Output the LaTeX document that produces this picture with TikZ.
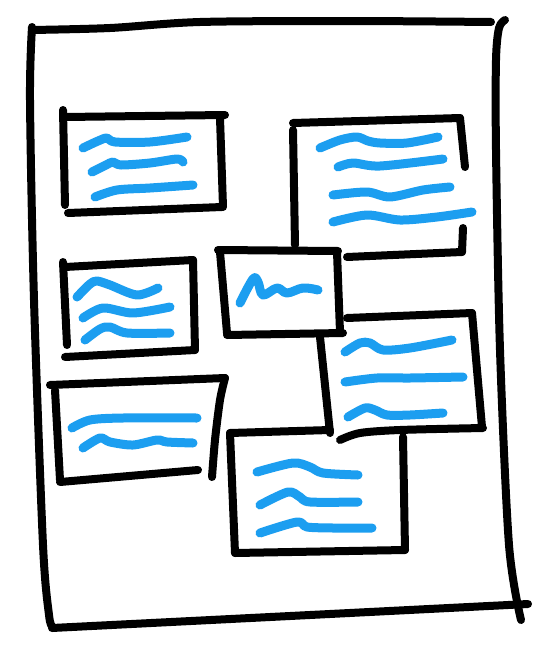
\documentclass[tikz,border=0pt]{standalone}
\definecolor{pen}{RGB}{28,158,240}
\begin{document}
\begin{tikzpicture}[x=1pt,y=-1pt,
  ink/.style={line width=8pt,line cap=round,line join=round,draw=black},
  scrib/.style={line width=9pt,line cap=round,line join=round,draw=pen}]
\useasboundingbox (0,0) rectangle (546,645);
% page
\draw[ink] plot[smooth] coordinates {(32,30) (110,28) (200,22) (350,21) (491,22)};
\draw[ink] plot[smooth] coordinates {(32,27) (30,100) (34,300) (43,545) (49,615) (52,626)};
\draw[ink] (52,628) -- (528,604);
\draw[ink] plot[smooth] coordinates {(505,20) (499,28) (496,60) (496,150) (500,350) (509,545) (521,620)};
% box A
\draw[ink] (63,110) -- (65,205);
\draw[ink] (65,117) -- (225,115);
\draw[ink] (220,118) -- (223,207);
\draw[ink] (68,213) -- (222,207);
\draw[scrib] plot[smooth] coordinates {(83,148) (98,141) (107,138) (115,142) (150,142) (187,137)};
\draw[scrib] plot[smooth] coordinates {(92,172) (106,165) (113,162) (121,165) (150,163) (177,159) (183,162)};
\draw[scrib] plot[smooth] coordinates {(95,197) (117,190) (150,188) (193,185)};
% box B
\draw[ink] (293,123) -- (460,118);
\draw[ink] (293,130) -- (295,245);
\draw[ink] (460,118) -- (465,167);
\draw[ink] (463,228) -- (462,252);
\draw[ink] (347,257) -- (462,252);
\draw[scrib] plot[smooth] coordinates {(320,148) (340,140) (357,137) (368,141) (380,143) (407,143) (438,137)};
\draw[scrib] plot[smooth] coordinates {(338,167) (353,163) (380,166) (443,159)};
\draw[scrib] plot[smooth] coordinates {(333,195) (367,192) (390,197) (423,190) (450,187)};
\draw[scrib] plot[smooth] coordinates {(333,222) (367,215) (400,220) (437,217) (472,212)};
% box C
\draw[ink] (218,250) -- (338,251);
\draw[ink] (220,252) -- (227,333);
\draw[ink] (227,335) -- (343,333);
\draw[ink] (337,252) -- (340,332);
\draw[scrib] plot[smooth,tension=0.6] coordinates {(240,303) (253,279) (258,282) (263,295) (277,288) (287,293) (303,288) (318,290)};
% box D
\draw[ink] (63,262) -- (67,345);
\draw[ink] (65,267) -- (193,260);
\draw[ink] (193,260) -- (195,350);
\draw[ink] (65,357) -- (195,350);
\draw[scrib] plot[smooth] coordinates {(77,297) (90,284) (97,281) (110,285) (137,295) (158,288)};
\draw[scrib] plot[smooth] coordinates {(83,318) (103,308) (133,313) (170,307)};
\draw[scrib] plot[smooth] coordinates {(85,340) (100,329) (110,327) (127,333) (170,333)};
% box E
\draw[ink] (347,318) -- (472,313);
\draw[ink] (472,313) -- (482,427);
\draw[ink] (320,337) -- (330,433);
\draw[ink] plot[smooth] coordinates {(340,440) (360,433) (400,430) (483,428)};
\draw[scrib] plot[smooth] coordinates {(345,352) (360,343) (370,343) (383,350) (410,348) (452,340)};
\draw[scrib] plot[smooth] coordinates {(345,382) (377,378) (410,378) (463,377)};
\draw[scrib] plot[smooth] coordinates {(348,417) (365,408) (375,410) (387,415) (410,415) (443,413)};
% box F
\draw[ink] (50,385) -- (225,378);
\draw[ink] (55,390) -- (60,480);
\draw[ink] plot[smooth] coordinates {(225,378) (220,400) (215,440) (212,477)};
\draw[ink] (60,482) -- (198,470);
\draw[scrib] plot[smooth] coordinates {(72,428) (90,420) (123,418) (197,418)};
\draw[scrib] plot[smooth] coordinates {(83,448) (100,438) (110,442) (133,445) (157,440) (167,442) (193,443)};
% box G
\draw[ink] (230,433) -- (330,430);
\draw[ink] (230,433) -- (235,553);
\draw[ink] (403,437) -- (405,550);
\draw[ink] (235,553) -- (405,550);
\draw[scrib] plot[smooth] coordinates {(257,472) (293,463) (310,467) (323,473) (358,475)};
\draw[scrib] plot[smooth] coordinates {(260,505) (288,492) (300,497) (310,502) (358,502)};
\draw[scrib] plot[smooth] coordinates {(260,533) (297,522) (307,527) (333,528) (372,528)};
\end{tikzpicture}
\end{document}
